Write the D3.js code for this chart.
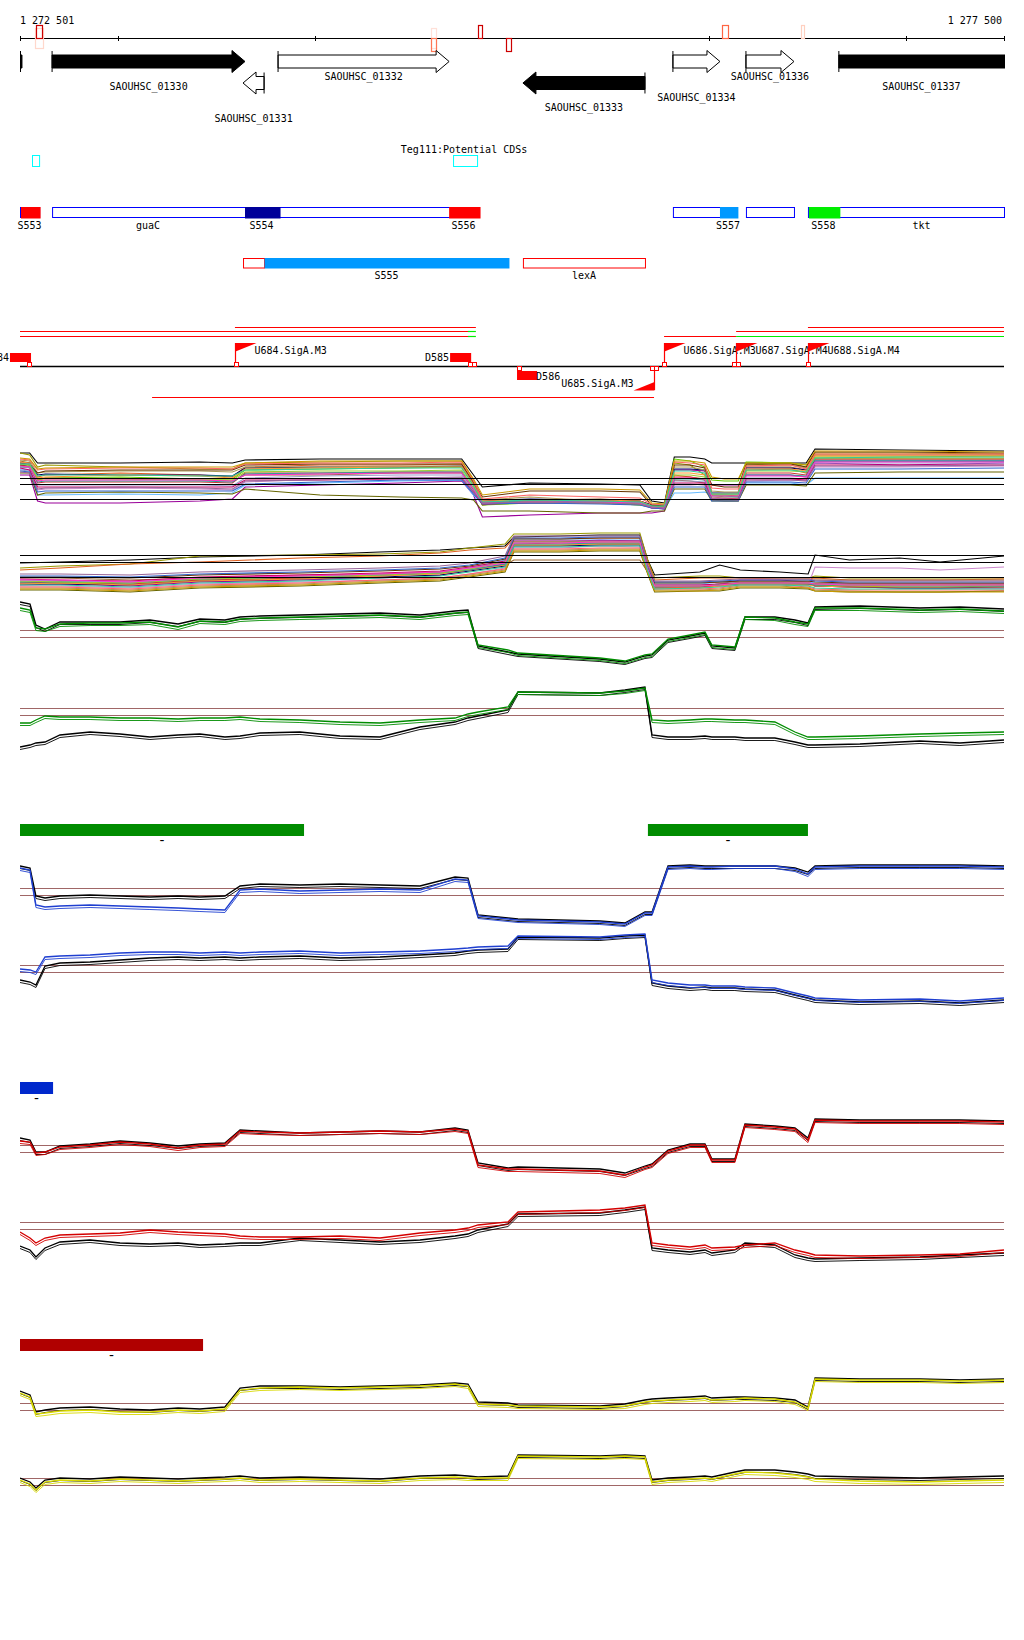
<!DOCTYPE html>
<html><head><meta charset="utf-8">
<script src="https://cdn.jsdelivr.net/npm/d3@7"></script>
<style>
body{margin:0;background:#fff}
text{font-family:"DejaVu Sans Mono",monospace;font-size:10px;fill:#000}
</style></head>
<body><svg id="c" width="1024" height="1640"></svg>
<script>
// ---------------- DATA ----------------
const START = 1272501, END = 1277500;
const axisTicks = [1272501, 1273000, 1274000, 1276000, 1277000, 1277500];
const axisMarks = [
  {s:1272577, e:1272618, side:"both", color:"#ffd8cc"},
  {s:1272582, e:1272613, side:"up", color:"#cc0000"},
  {s:1274589, e:1274615, side:"both", color:"#ffe0d8"},
  {s:1274589, e:1274615, side:"down", color:"#ff7755"},
  {s:1274828, e:1274848, side:"up", color:"#cc0000"},
  {s:1274970, e:1274996, side:"down", color:"#cc0000"},
  {s:1276067, e:1276097, side:"up", color:"#ff6644"},
  {s:1276468, e:1276483, side:"up", color:"#ffd0c0"}
];
const genes = [
  {name:"", s:1272380, e:1272511, strand:1, filled:true, partial:true},
  {name:"SAOUHSC_01330", s:1272664, e:1273644, strand:1, filled:true},
  {name:"SAOUHSC_01331", s:1273634, e:1273741, strand:-1, filled:false},
  {name:"SAOUHSC_01332", s:1273812, e:1274681, strand:1, filled:false},
  {name:"SAOUHSC_01333", s:1275056, e:1275676, strand:-1, filled:true},
  {name:"SAOUHSC_01334", s:1275818, e:1276057, strand:1, filled:false},
  {name:"SAOUHSC_01336", s:1276189, e:1276433, strand:1, filled:false},
  {name:"SAOUHSC_01337", s:1276661, e:1277640, strand:1, filled:true}
];
const tegLabel = "Teg111:Potential CDSs";
const tegFeatures = [{s:1272562, e:1272598}, {s:1274701, e:1274823}];
const featureBoxes = [[1272501,1272598],[1272664,1274833],[1275818,1276143],[1276189,1276433],[1276504,1277500]];
const features = [
  {name:"S553", s:1272501, e:1272598, fill:"#ff0000"},
  {name:"guaC", s:1272664, e:1273639, fill:null},
  {name:"S554", s:1273639, e:1273817, fill:"#000099"},
  {name:"S556", s:1274676, e:1274833, fill:"#ff0000"},
  {name:"S557", s:1276052, e:1276143, fill:"#0099ff"},
  {name:"S558", s:1276504, e:1276661, fill:"#00ee00"},
  {name:"tkt",  s:1276661, e:1277500, fill:null}
];
const features2 = [
  {name:"", s:1273634, e:1273741, fill:null, outline:"#ff0000"},
  {name:"S555", s:1273741, e:1274985, fill:"#0099ff", outline:null},
  {name:"lexA", s:1275056, e:1275676, fill:null, outline:"#ff0000"}
];
const transcripts = [
  {s:1273593, e:1274817, lane:0, color:"#ff0000"},
  {s:1276504, e:1277500, lane:0, color:"#ff0000"},
  {s:1272501, e:1274777, lane:1, color:"#ff0000"},
  {s:1274777, e:1274817, lane:1, color:"#00ee00"},
  {s:1276139, e:1277500, lane:1, color:"#ff0000"},
  {s:1272501, e:1274777, lane:2, color:"#ff0000"},
  {s:1274777, e:1274817, lane:2, color:"#00ee00"},
  {s:1275773, e:1276139, lane:2, color:"#ff0000"},
  {s:1276139, e:1277500, lane:2, color:"#00ee00"},
  {s:1273172, e:1275722, lane:3, color:"#ff0000"}
];
const promoters = [
  {name:"U684.SigA.M3", pos:1273593, strand:1},
  {name:"U685.SigA.M3", pos:1275722, strand:-1},
  {name:"U686.SigA.M3", pos:1275773, strand:1},
  {name:"U687.SigA.M4", pos:1276139, strand:1},
  {name:"U688.SigA.M4", pos:1276504, strand:1}
];
const terminators = [
  {name:"D584", s:1272450, e:1272557, strand:1},
  {name:"D585", s:1274686, e:1274793, strand:1},
  {name:"D586", s:1275026, e:1275128, strand:-1}
];
const sites = [
  {pos:1272547, strand:1},{pos:1273598, strand:1},{pos:1274787, strand:1},{pos:1274807, strand:1},
  {pos:1275036, strand:-1},{pos:1275712, strand:-1},{pos:1275732, strand:-1},
  {pos:1275775, strand:1},{pos:1276128, strand:1},{pos:1276148, strand:1},{pos:1276504, strand:1}
];

// multi-condition panel A
const knotsA = [1272501,1272550,1272590,1272630,1273010,1273415,1273580,1273645,1274025,1274430,1274745,1274805,1274850,1275090,1275450,1275650,1275710,1275775,1275825,1275905,1275980,1276015,1276080,1276150,1276190,1276415,1276495,1276540,1276970,1277500];
const seriesA = [
 [72,72,62,62,62,63,62,65,66,66,66,50,38,42,41,40,24,22,68,68,66,62,62,62,62,62,62,76,75,74],
 [72,70,58,60,58,56,56,62,63,64,64,45,20,24,22,20,18,16,62,60,50,30,28,28,60,62,58,72,72,71],
 [62,60,48,50,52,50,48,58,60,60,61,40,22,25,24,23,17,18,50,48,45,28,27,26,55,56,52,70,70,70],
 [50,50,24,22,22,24,26,38,40,42,44,30,8,10,12,12,12,14,55,55,54,40,40,40,50,50,48,62,60,62],
 [60,58,45,47,48,46,46,55,56,57,58,40,20,22,22,20,18,18,66,64,58,45,44,44,63,62,60,68,68,69],
 [56,55,30,30,31,30,32,40,42,44,45,30,22,24,22,22,18,16,32,32,33,30,30,30,42,42,40,47,47,47],
 [64,62,45,47,46,45,44,50,50,52,52,35,20,25,26,24,20,18,45,44,42,25,24,24,58,58,55,66,66,66],
 [58,57,35,36,37,36,35,43,46,48,47,32,22,24,24,21,17,17,40,40,41,25,25,25,44,45,44,58,58,59],
 [62,62,50,51,50,50,49,57,58,58,59,42,24,26,25,24,20,20,56,56,55,32,32,32,57,57,55,64,64,64],
 [60,58,42,43,43,43,42,52,52,53,53,35,23,24,24,22,19,18,48,48,46,30,30,29,52,52,50,66,66,66],
 [65,64,52,53,54,54,53,58,58,59,59,42,25,28,24,22,20,20,58,58,55,34,33,33,60,60,57,70,70,70],
 [55,54,40,40,40,40,39,47,49,50,50,34,23,23,23,22,18,17,44,44,43,27,27,27,47,47,46,62,62,62],
 [57,55,38,38,38,38,38,45,45,46,46,33,21,22,22,21,17,16,42,42,42,26,26,26,46,46,45,60,60,60],
 [52,52,30,32,33,32,31,36,30,28,27,25,14,14,12,12,14,14,36,36,36,24,24,24,40,40,39,52,53,53],
 [63,62,47,48,50,49,47,56,57,58,58,40,24,25,25,24,19,19,52,52,50,31,31,31,56,56,54,69,69,69],
 [58,58,43,44,44,44,43,51,52,53,53,36,22,24,23,22,19,18,46,46,45,29,29,28,50,50,49,64,64,64],
 [60,60,52,54,55,55,55,60,61,61,61,43,28,34,34,33,20,19,60,60,57,40,38,38,61,61,58,73,73,72],
 [61,60,46,46,46,46,45,53,54,54,55,37,22,23,22,21,18,18,50,50,48,30,30,30,54,54,53,67,67,67],
 [66,65,55,56,57,57,56,61,62,62,63,44,26,30,28,27,21,20,63,62,60,37,36,36,59,60,56,71,71,71],
 [54,53,33,34,34,34,34,41,43,45,45,31,21,22,21,20,17,16,38,38,38,24,24,24,43,43,42,56,56,57],
 [67,66,56,57,58,58,58,62,64,64,64,46,30,36,36,35,22,21,64,64,62,48,46,46,62,62,60,74,74,73],
 [59,58,44,45,45,45,44,50,51,52,52,36,22,23,23,22,18,17,47,47,46,29,29,29,49,49,48,63,63,63],
 [61,61,49,50,50,49,49,55,56,57,57,39,23,25,24,23,19,19,54,54,52,31,31,31,55,55,53,67,68,68],
 [53,52,36,37,38,37,36,44,45,47,48,33,22,23,22,21,18,17,41,41,40,26,26,25,45,45,44,59,59,60]
];
const refA = [47, 41, 26];

// multi-condition panel B
const knotsB = [1272501,1272705,1273060,1273415,1273925,1274330,1274635,1274785,1274965,1275010,1275245,1275445,1275650,1275690,1275725,1275955,1276055,1276160,1276360,1276505,1276540,1276715,1276970,1277175,1277500];
const seriesB = [
 [37,38,40,43,45,48,50,52,54,63,64,65,65,40,25,28,35,30,28,26,45,40,42,38,44],
 [32,34,36,44,45,46,48,52,56,66,66,67,67,40,22,24,24,22,22,22,24,22,22,22,22],
 [30,32,36,38,42,44,47,50,52,62,61,62,62,38,20,22,22,22,21,21,22,20,20,20,21],
 [15,16,14,18,20,22,25,30,36,58,58,60,59,30,12,14,16,20,20,18,14,13,12,12,12],
 [18,17,16,20,22,25,28,32,38,55,55,56,56,30,14,14,16,17,17,16,15,14,13,13,14],
 [20,19,18,22,24,26,28,32,40,60,60,60,60,32,16,16,18,18,18,18,17,16,16,16,16],
 [22,22,20,22,25,26,28,30,35,40,40,40,40,28,18,18,18,18,18,18,20,20,20,20,20],
 [14,14,12,16,18,20,22,26,32,52,52,54,53,28,12,12,14,16,16,15,33,32,32,30,33],
 [16,16,15,19,21,23,25,29,34,54,54,55,55,29,13,13,15,17,17,16,14,13,12,12,13],
 [17,18,16,20,22,24,27,30,36,56,57,57,57,30,12,13,14,16,16,15,16,15,15,15,15],
 [12,12,10,14,16,19,21,25,30,50,50,51,51,27,10,10,11,14,14,12,10,9,8,8,9],
 [19,19,17,21,23,25,27,31,37,57,58,58,58,31,15,15,16,17,17,17,16,15,15,15,15],
 [21,20,19,23,25,27,29,33,39,59,59,59,59,31,15,15,16,17,17,17,16,16,16,16,16],
 [10,10,8,12,14,17,19,23,28,48,48,49,49,26,8,9,9,12,12,11,9,8,8,8,9],
 [16,17,15,19,21,24,26,30,35,55,55,56,56,29,12,12,14,16,16,15,14,13,13,13,13],
 [18,18,17,21,23,25,27,30,36,56,56,57,57,30,13,14,15,16,16,16,15,15,14,14,14],
 [23,23,22,25,27,29,31,34,41,61,61,62,62,33,17,17,18,19,19,19,18,17,17,17,17],
 [19,18,17,21,23,25,27,31,38,58,58,58,58,30,14,14,15,17,17,17,16,15,15,15,15],
 [13,13,11,15,17,20,22,26,31,51,51,52,52,28,11,11,12,15,15,13,11,10,10,10,10],
 [24,24,23,26,28,30,32,35,42,62,62,63,63,34,18,18,19,20,20,20,19,18,18,18,18],
 [11,11,9,13,15,18,20,24,29,49,49,50,50,27,9,9,10,13,13,12,9,8,8,8,8],
 [20,20,18,22,24,26,28,32,37,57,57,58,58,31,14,14,15,17,17,17,16,15,15,15,15],
 [15,15,13,17,19,22,24,28,33,53,53,54,54,29,11,12,13,15,15,14,12,11,11,11,11],
 [26,26,25,28,30,32,34,37,44,64,64,64,64,35,19,19,20,21,21,21,20,19,19,19,19]
];
const refB = [45, 38, 23];
const multiColors = ["#000000","#999900","#e06020","#990099","#66cc00","#66bbff","#996633","#cc88cc","#000066","#cc3333","#aa9955","#9999cc","#cc0066","#666600","#ff9933","#339999","#663300","#99cc33","#ff6666","#3366cc","#cc9900","#ff33cc","#33cc99","#996699"];

// paired panels (shared knots)
const knotsP = [1272501,1272552,1272582,1272628,1272704,1272857,1273009,1273161,1273304,1273415,1273542,1273619,1273720,1273923,1274127,1274330,1274533,1274711,1274777,1274828,1274980,1275031,1275447,1275574,1275676,1275712,1275793,1275905,1275981,1276016,1276133,1276184,1276336,1276438,1276504,1276540,1276768,1277073,1277276,1277500];
const cUpBlack = [68,66,45,41,48,48,48,50,46,51,50,53,54,55,56,57,55,59,60,24,18,16,11,8,14,15,30,34,37,24,22,53,53,50,47,63,64,62,63,61];
const cUpGreen = [62,60,42,41,46,47,47,48,43,49,48,51,52,53,54,55,53,57,58,25,20,17,12,9,15,16,31,35,38,25,23,53,52,48,46,62,62,60,61,59];
const cLoBlack = [13,15,17,18,25,28,26,23,25,26,23,24,27,28,24,23,33,38,42,44,50,68,67,70,73,25,23,23,24,23,23,22,22,18,15,15,16,19,17,20];
const cLoGreen = [37,37,40,44,43,43,42,42,41,42,42,43,41,40,38,37,40,42,46,48,53,68,67,69,72,40,39,40,41,41,40,40,38,28,23,23,24,26,27,28];
const dUpBlack = [64,62,34,32,34,35,34,33,34,33,34,44,46,45,46,45,44,53,52,15,12,11,9,7,18,18,64,65,64,64,64,64,64,62,58,64,65,65,65,64];
const dUpBlue  = [62,60,25,23,24,25,24,23,22,21,20,40,41,39,40,41,40,51,50,14,11,10,8,6,17,17,63,64,63,63,64,64,64,61,56,63,64,64,64,63];
const dLoBlack = [30,28,25,44,47,48,50,52,53,52,53,52,53,54,52,53,55,57,59,60,61,73,72,74,75,27,24,22,23,22,22,21,20,15,12,10,8,9,7,10];
const dLoBlue  = [41,40,38,53,54,55,57,58,58,57,58,57,58,59,57,58,59,61,62,63,64,74,73,75,76,30,27,25,25,24,24,23,22,17,14,12,10,11,9,12];
const eUpBlack = [42,40,28,28,34,36,39,37,34,36,37,50,49,47,48,49,48,52,50,17,12,13,11,7,14,16,30,36,36,21,21,56,54,52,42,61,60,60,60,59];
const eUpRed   = [39,38,27,28,33,35,38,36,32,35,36,49,48,47,48,49,48,51,49,15,11,11,9,5,13,15,29,35,35,20,20,55,53,51,40,60,59,59,59,58];
const eLoBlack = [19,15,8,17,23,25,22,21,22,20,21,22,22,27,25,23,25,29,31,35,41,51,52,55,58,17,15,13,15,12,15,22,20,10,7,6,7,8,10,12];
const eLoRed   = [33,27,22,27,30,31,32,35,33,32,31,29,28,28,29,27,32,35,37,40,43,53,55,57,60,22,20,18,20,17,18,20,22,15,12,10,9,10,11,15];
const fUpBlack = [29,25,8,10,12,13,11,10,12,11,13,32,34,34,33,34,35,37,36,18,17,15,14,16,20,21,22,23,24,22,23,23,22,20,13,42,41,41,40,41];
const fUpYellow= [27,23,6,7,9,10,8,8,10,9,11,30,32,33,32,33,34,36,34,16,15,14,13,14,18,19,20,21,22,20,21,22,21,18,12,41,40,40,39,40];
const fLoBlack = [17,13,7,15,17,16,18,17,16,17,18,19,17,18,17,16,19,20,19,18,19,40,39,40,39,15,17,18,19,18,23,25,25,23,21,19,18,17,18,19];
const fLoYellow= [15,11,5,13,15,14,16,15,14,15,16,17,15,16,15,14,17,18,17,17,17,39,38,39,38,13,15,16,17,16,21,23,22,20,18,16,14,13,14,15];
const segBars = [
  {s:1272501, e:1273944, color:"#008c00", label:"-", panel:"D"},
  {s:1275691, e:1276504, color:"#008c00", label:"-", panel:"D"},
  {s:1272501, e:1272669, color:"#0028cc", label:"-", panel:"E"},
  {s:1272501, e:1273431, color:"#b00000", label:"-", panel:"F"}
];

// ---------------- DRAW ----------------
const svg = d3.select("#c");
const x = d3.scaleLinear().domain([START, END]).range([20, 1004]);
svg.append("defs").append("clipPath").attr("id","clip")
  .append("rect").attr("x",20).attr("y",0).attr("width",985).attr("height",1640);

const fmt = d3.formatLocale({decimal:".", thousands:" ", grouping:[3], currency:["",""]}).format(",");
svg.append("text").attr("x",20).attr("y",23.5).text(fmt(START));
svg.append("text").attr("x",1002).attr("y",23.5).attr("text-anchor","end").text(fmt(END));

// axis
const axY = 38;
svg.append("g").attr("transform",`translate(0,${axY})`)
  .call(d3.axisBottom(x).tickValues(axisTicks).tickSize(3).tickSizeOuter(0).tickFormat(""))
  .call(g=>g.selectAll("path,line").attr("stroke","#000").attr("shape-rendering","crispEdges"));
svg.append("g").attr("transform",`translate(0,${axY})`)
  .call(d3.axisTop(x).tickValues(axisTicks).tickSize(2).tickSizeOuter(0).tickFormat(""))
  .call(g=>g.selectAll("path,line").attr("stroke","#000").attr("shape-rendering","crispEdges"));
const markY = {up:[25,38], down:[38,51], both:[28,48]};
svg.append("g").selectAll("rect").data(axisMarks).join("rect")
  .attr("x",d=>Math.round(x(d.s))+0.5).attr("y",d=>markY[d.side][0]+0.5)
  .attr("width",d=>Math.max(3,Math.round(x(d.e)-x(d.s))))
  .attr("height",d=>markY[d.side][1]-markY[d.side][0])
  .attr("fill","none").attr("stroke",d=>d.color).attr("stroke-width",1.2);

// genes
const gG = svg.append("g").attr("clip-path","url(#clip)");
const rowY = {"1":61.5, "-1":83};
const labelLane = {"SAOUHSC_01332":0,"SAOUHSC_01336":0,"SAOUHSC_01330":1,"SAOUHSC_01337":1,"SAOUHSC_01334":2,"SAOUHSC_01333":3,"SAOUHSC_01331":4};
genes.forEach(g=>{
  const x0 = x(g.s), x1 = x(g.e), yc = rowY[g.strand];
  const bh = 6.5, hh = 11, hl = 13;
  let pts;
  if (g.partial) {
    pts = [[x0,yc-bh],[x1,yc-bh],[x1,yc+bh],[x0,yc+bh]];
  } else if (g.strand > 0) {
    pts = [[x0,yc-bh],[x1-hl,yc-bh],[x1-hl,yc-hh],[x1,yc],[x1-hl,yc+hh],[x1-hl,yc+bh],[x0,yc+bh]];
  } else {
    pts = [[x1,yc-bh],[x0+hl,yc-bh],[x0+hl,yc-hh],[x0,yc],[x0+hl,yc+hh],[x0+hl,yc+bh],[x1,yc+bh]];
  }
  gG.append("polygon").attr("points",pts.map(p=>p.join(",")).join(" "))
    .attr("fill",g.filled?"#000":"#fff").attr("stroke","#000").attr("stroke-width",1);
  const bx = g.partial ? 20.5 : (g.strand>0 ? x0 : x1);
  gG.append("line").attr("x1",bx).attr("x2",bx).attr("y1",yc-10.5).attr("y2",yc+10.5).attr("stroke","#000");
  if (g.name) {
    const lc = (x0 + Math.min(x1, 1004))/2;
    svg.append("text").attr("x",lc).attr("y",76 + 10.5*labelLane[g.name] + 3.6)
      .attr("text-anchor","middle").text(g.name);
  }
});

// Teg111 track
const t2 = tegFeatures[1];
svg.append("text").attr("x",(x(t2.s)+x(t2.e))/2 - 1).attr("y",152.5).attr("text-anchor","middle").text(tegLabel);
svg.append("g").selectAll("rect").data(tegFeatures).join("rect")
  .attr("x",d=>x(d.s)+0.5).attr("y",155.5).attr("width",d=>x(d.e)-x(d.s)).attr("height",11)
  .attr("fill","none").attr("stroke","#00ffff").attr("stroke-width",1);

// feature row
const fy = 207;
svg.append("g").selectAll("rect").data(featureBoxes).join("rect")
  .attr("x",d=>x(d[0])+0.5).attr("y",fy+0.5).attr("width",d=>x(d[1])-x(d[0])).attr("height",10)
  .attr("fill","#fff").attr("stroke","#0000ff").attr("stroke-width",1);
svg.append("g").selectAll("rect").data(features.filter(d=>d.fill)).join("rect")
  .attr("x",d=>x(d.s)+1).attr("y",fy).attr("width",d=>x(d.e)-x(d.s)+0.5).attr("height",11.5)
  .attr("fill",d=>d.fill);
svg.append("g").selectAll("text").data(features).join("text")
  .attr("x",d=>(x(d.s)+x(d.e))/2).attr("y",fy+21.5).attr("text-anchor","middle").text(d=>d.name);

// feature row 2
const fy2 = 258;
svg.append("g").selectAll("rect").data(features2).join("rect")
  .attr("x",d=>x(d.s)+0.5).attr("y",d=>d.fill?fy2:fy2+0.5)
  .attr("width",d=>x(d.e)-x(d.s)).attr("height",d=>d.fill?10.5:9.5)
  .attr("fill",d=>d.fill||"#fff").attr("stroke",d=>d.outline||"none").attr("stroke-width",1);
svg.append("g").selectAll("text").data(features2.filter(d=>d.name)).join("text")
  .attr("x",d=>(x(d.s)+x(d.e))/2).attr("y",fy2+20.5).attr("text-anchor","middle").text(d=>d.name);

// transcripts
const laneY = [327.5, 331.5, 336.5, 397.5];
svg.append("g").selectAll("line").data(transcripts).join("line")
  .attr("x1",d=>x(d.s)).attr("x2",d=>x(d.e)).attr("y1",d=>laneY[d.lane]).attr("y2",d=>laneY[d.lane])
  .attr("stroke",d=>d.color).attr("stroke-width",1.2);
const baseY = 366;
svg.append("line").attr("x1",20).attr("x2",1004).attr("y1",baseY+0.5).attr("y2",baseY+0.5)
  .attr("stroke","#000").attr("stroke-width",1.3);

// terminators
terminators.forEach(t=>{
  const x0 = x(t.s), x1 = x(t.e);
  if (t.strand>0) {
    svg.append("rect").attr("x",x0).attr("y",353).attr("width",x1-x0).attr("height",9).attr("fill","#ff0000");
    svg.append("text").attr("x",x0-1).attr("y",361).attr("text-anchor","end").text(t.name);
  } else {
    svg.append("rect").attr("x",x0).attr("y",371).attr("width",x1-x0).attr("height",9).attr("fill","#ff0000");
    svg.append("text").attr("x",x1-1).attr("y",380).text(t.name);
  }
});
// promoters
promoters.forEach(p=>{
  const px = Math.round(x(p.pos))+0.5;
  if (p.strand>0) {
    svg.append("line").attr("x1",px).attr("x2",px).attr("y1",343).attr("y2",baseY).attr("stroke","#ff0000").attr("stroke-width",1.2);
    svg.append("polygon").attr("points",`${px},343 ${px+21},343 ${px},351.5`).attr("fill","#ff0000");
    svg.append("text").attr("x",px+19).attr("y",353.6).text(p.name);
  } else {
    svg.append("line").attr("x1",px).attr("x2",px).attr("y1",baseY).attr("y2",390).attr("stroke","#ff0000").attr("stroke-width",1.2);
    svg.append("polygon").attr("points",`${px},390.5 ${px-21},390.5 ${px},382`).attr("fill","#ff0000");
    svg.append("text").attr("x",px-21).attr("y",386.6).attr("text-anchor","end").text(p.name);
  }
});
svg.append("g").selectAll("rect").data(sites).join("rect")
  .attr("x",d=>Math.round(x(d.pos))-1.5).attr("y",d=>d.strand>0?362.5:366.5).attr("width",4).attr("height",4)
  .attr("fill","#fff").attr("stroke","#ff0000").attr("stroke-width",1);

// multi panels
function drawMulti(knots, series, bottom, refs) {
  const y = d3.scaleLinear().domain([0,100]).range([bottom, bottom-100]);
  const line = d3.line().x((d,i)=>x(knots[i])).y(d=>y(d));
  const g = svg.append("g").attr("clip-path","url(#clip)");
  g.selectAll("path").data(series).join("path")
    .attr("d",d=>line(d)).attr("fill","none").attr("stroke",(d,i)=>multiColors[i]).attr("stroke-width",1.1);
  svg.append("g").selectAll("line").data(refs).join("line")
    .attr("x1",20).attr("x2",1004).attr("y1",d=>Math.round(y(d))+0.5).attr("y2",d=>Math.round(y(d))+0.5)
    .attr("stroke","#000").attr("stroke-width",1.2);
}
drawMulti(knotsA, seriesA, 525, refA);
drawMulti(knotsB, seriesB, 600, refB);

// paired panels
const pairPanels = [
  {up:[cUpBlack,cUpGreen], lo:[cLoBlack,cLoGreen], colors:["#000","#008c00"], upBottom:670, loBottom:760, upRefs:[40,33], loRefs:[52,45]},
  {up:[dUpBlack,dUpBlue], lo:[dLoBlack,dLoBlue], colors:["#000","#1f3fd0"], upBottom:930, loBottom:1010, upRefs:[42,35], loRefs:[45,38]},
  {up:[eUpBlack,eUpRed], lo:[eLoBlack,eLoRed], colors:["#000","#d40000"], upBottom:1180, loBottom:1265, upRefs:[35,28], loRefs:[43,36]},
  {up:[fUpBlack,fUpYellow], lo:[fLoBlack,fLoYellow], colors:["#000","#d8d800"], upBottom:1420, loBottom:1495, upRefs:[17,10], loRefs:[17,10]}
];
function drawTrack(series, colors, bottom, refs) {
  const y = d3.scaleLinear().domain([0,100]).range([bottom, bottom-100]);
  svg.append("g").selectAll("line").data(refs).join("line")
    .attr("x1",20).attr("x2",1004).attr("y1",d=>Math.round(y(d))+0.5).attr("y2",d=>Math.round(y(d))+0.5)
    .attr("stroke","#a06666").attr("stroke-width",1);
  const line = d3.line().x((d,i)=>x(knotsP[i])).y(d=>y(d));
  const g = svg.append("g").attr("clip-path","url(#clip)");
  series.forEach((s,i)=>{
    g.append("path").attr("d",line(s)).attr("fill","none").attr("stroke",colors[i]).attr("stroke-width",1.3);
    g.append("path").attr("d",line(s)).attr("transform","translate(0,2.5)").attr("fill","none").attr("stroke",colors[i]).attr("stroke-width",0.9);
  });
}
pairPanels.forEach(p=>{
  drawTrack(p.up, p.colors, p.upBottom, p.upRefs);
  drawTrack(p.lo, p.colors, p.loBottom, p.loRefs);
});

// segment bars
const barY = {D:824, E:1082, F:1339};
svg.append("g").selectAll("rect").data(segBars).join("rect")
  .attr("x",d=>x(d.s)).attr("y",d=>barY[d.panel]).attr("width",d=>x(d.e)-x(d.s)).attr("height",12)
  .attr("fill",d=>d.color);
svg.append("g").selectAll("text").data(segBars).join("text")
  .attr("x",d=>(x(d.s)+x(d.e))/2).attr("y",d=>barY[d.panel]+21).attr("text-anchor","middle")
  .style("font-size","14px").text(d=>d.label);
</script>
</body></html>
